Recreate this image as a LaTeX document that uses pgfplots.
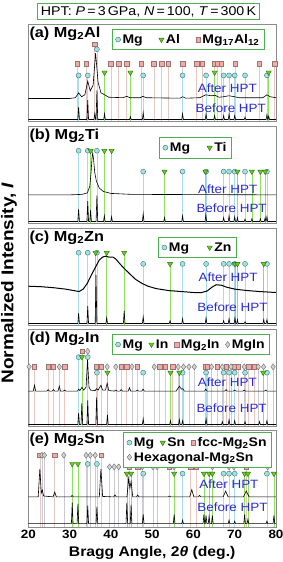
\documentclass[border=0pt]{standalone}
\usepackage{fontspec}
\setmainfont{Liberation Sans}[FakeStretch=1.12]
\usepackage{pgfplots}
\pgfplotsset{compat=1.18}
\definecolor{mgfill}{HTML}{9FE6D8}
\definecolor{mgedge}{HTML}{3E6E8E}
\definecolor{mgline}{HTML}{A8DCEC}
\definecolor{trfill}{HTML}{66CC22}
\definecolor{tredge}{HTML}{2E6E10}
\definecolor{trline}{HTML}{8EE060}
\definecolor{sqfill}{HTML}{F2AAA2}
\definecolor{sqedge}{HTML}{9A7474}
\definecolor{sqline}{HTML}{E8C8C0}
\definecolor{dmfill}{HTML}{D2D2D2}
\definecolor{dmedge}{HTML}{6E6E6E}
\definecolor{dmline}{HTML}{CACAD2}
\definecolor{boxgreen}{HTML}{4CAF50}
\definecolor{lblue}{HTML}{2A2AD0}
\definecolor{frame}{HTML}{8C8C8C}
\pgfplotsset{
 panel/.style={
  width=247.7pt, height=97pt, scale only axis,
  xmin=20, xmax=80, ymin=0, ymax=1,
  ytick=\empty, xtick={20,30,...,80}, xticklabels={},
  major tick length=0pt,
  axis line style={draw=frame, line width=0.8pt},
  legend cell align=left,
  legend image code/.code={\draw[##1] plot coordinates {(0.1cm,0cm)};},
  legend style={draw=boxgreen, line width=0.9pt, fill=white,
    font=\bfseries\fontsize{12.5}{14}\selectfont, inner xsep=3pt, inner ysep=3pt,
    anchor=north east},
 },
 csep/.style={legend style={/tikz/every even column/.append style={column sep=#1}}},
 mgM/.style={only marks, mark=*, mark size=2.5pt, mark options={fill=mgfill, draw=mgedge, line width=0.4pt}},
 trM/.style={only marks, mark=triangle*, mark size=3pt, mark options={fill=trfill, draw=tredge, rotate=180, line width=0.4pt}},
 sqM/.style={only marks, mark=square*, mark size=2.2pt, mark options={fill=sqfill, draw=sqedge, line width=0.4pt}},
 dmM/.style={only marks, mark=diamond*, mark size=3pt, mark options={fill=dmfill, draw=dmedge, line width=0.4pt}},
 mgL/.style={ycomb, draw=mgline, line width=0.6pt, mark=*, mark size=2.5pt, mark options={fill=mgfill, draw=mgedge, line width=0.4pt}, forget plot},
 trL/.style={ycomb, draw=trline, line width=0.6pt, mark=triangle*, mark size=3pt, mark options={fill=trfill, draw=tredge, rotate=180, line width=0.4pt}, forget plot},
 sqL/.style={ycomb, draw=sqline, line width=0.6pt, mark=square*, mark size=2.2pt, mark options={fill=sqfill, draw=sqedge, line width=0.4pt}, forget plot},
 dmL/.style={ycomb, draw=dmline, line width=0.6pt, mark=diamond*, mark size=3pt, mark options={fill=dmfill, draw=dmedge, line width=0.4pt}, forget plot},
 curve/.style={black, line width=0.6pt, mark=none, forget plot},
}
\tikzset{
 plabel/.style={anchor=north west, inner sep=1pt, yshift=-1.5pt, font=\bfseries\fontsize{14.5}{16}\selectfont},
 hpt/.style={anchor=east, inner sep=0pt, text=lblue, font=\fontsize{12}{14}\selectfont},
}
\begin{document}
\begin{tikzpicture}
\useasboundingbox (0pt,0pt) rectangle (283pt,562pt);

% ---------------- (a) Mg2Al
\begin{axis}[panel, at={(28.3pt,441pt)}, anchor=south west, legend columns=3, csep=14pt,
  legend style={at={(0.955,0.95)}}]
\addplot[sqL] coordinates {(31.9,0.59)(34.0,0.59)(36.1,0.79)(40.0,0.59)(41.9,0.59)(43.8,0.59)(47.4,0.59)(50.4,0.59)(52.3,0.59)(53.9,0.59)(57.4,0.59)(60.8,0.59)(62.1,0.59)(65.0,0.59)(65.8,0.59)(66.7,0.59)(70.1,0.59)(75.9,0.59)(79.7,0.59)};
\addplot[mgL] coordinates {(32.19,0.47)(34.40,0.47)(36.62,0.74)(47.83,0.47)(57.37,0.47)(63.06,0.47)(67.32,0.47)(68.63,0.47)(70.0,0.47)(72.5,0.47)(77.8,0.47)};
\addplot[trL] coordinates {(38.47,0.50)(44.74,0.50)(65.13,0.50)(78.23,0.50)};
\addplot[curve] coordinates {(20,0.015)(31.99,0.015)(32.19,0.145)(32.39,0.015)(34.20,0.015)(34.40,0.215)(34.60,0.015)(35.90,0.015)(36.10,0.075)(36.30,0.015)(36.42,0.015)(36.62,0.315)(36.82,0.015)(38.27,0.015)(38.47,0.075)(38.67,0.015)(44.54,0.015)(44.74,0.045)(44.94,0.015)(47.63,0.015)(47.83,0.085)(48.03,0.015)(57.17,0.015)(57.37,0.075)(57.57,0.015)(62.86,0.015)(63.06,0.075)(63.26,0.015)(64.93,0.015)(65.13,0.055)(65.33,0.015)(67.12,0.015)(67.32,0.055)(67.52,0.015)(68.43,0.015)(68.63,0.075)(68.83,0.015)(69.8,0.015)(70.0,0.055)(70.2,0.015)(72.3,0.015)(72.5,0.04)(72.7,0.015)(77.6,0.015)(77.8,0.065)(78.0,0.015)(78.03,0.015)(78.23,0.05)(78.43,0.015)(80,0.015)};
\addplot[curve] coordinates {(20,0.232)(30,0.232)(31.4,0.24)(32.2,0.29)(32.9,0.25)(33.7,0.27)(34.4,0.41)(35.0,0.31)(35.7,0.37)(36.3,0.70)(36.9,0.40)(37.6,0.29)(38.5,0.27)(39.5,0.245)(43.0,0.24)(43.8,0.255)(44.6,0.24)(47.1,0.24)(47.8,0.255)(48.5,0.24)(56.7,0.235)(57.4,0.25)(58.1,0.235)(61.5,0.24)(63.0,0.27)(64.3,0.26)(65.2,0.265)(66.2,0.245)(67.3,0.25)(68.6,0.26)(70.0,0.25)(71.0,0.24)(76.8,0.24)(77.8,0.27)(78.6,0.25)(80,0.24)};
\addlegendimage{mgM}\addlegendentry{Mg}
\addlegendimage{trM}\addlegendentry{Al}
\addlegendimage{sqM}\addlegendentry{Mg\textsubscript{17}Al\textsubscript{12}}
\node[plabel] at (rel axis cs:0,1) {(a) Mg\textsubscript{2}Al};
\node[hpt] at (axis cs:75.4,0.335) {After HPT};
\node[hpt] at (axis cs:77.6,0.135) {Before HPT};
\end{axis}

% ---------------- (b) Mg2Ti
\begin{axis}[panel, at={(28.3pt,339pt)}, anchor=south west, legend columns=2, csep=15pt,
  legend style={at={(0.822,0.887)}}]
\addplot[mgL] coordinates {(32.19,0.745)(34.40,0.745)(36.62,0.745)(47.83,0.53)(57.37,0.53)(63.06,0.53)(67.32,0.53)(68.63,0.53)(70.0,0.53)(72.5,0.53)(77.8,0.53)};
\addplot[trL] coordinates {(35.09,0.745)(38.42,0.745)(40.17,0.745)(53.0,0.53)(62.95,0.53)(70.66,0.53)(74.16,0.53)(76.22,0.53)(77.37,0.53)};
\addplot[curve] coordinates {(20,0.015)(31.99,0.015)(32.19,0.145)(32.39,0.015)(34.2,0.015)(34.4,0.225)(34.6,0.015)(34.89,0.015)(35.09,0.135)(35.29,0.015)(36.42,0.015)(36.62,0.285)(36.82,0.015)(38.22,0.015)(38.42,0.075)(38.62,0.015)(39.97,0.015)(40.17,0.065)(40.37,0.015)(47.63,0.015)(47.83,0.095)(48.03,0.015)(52.8,0.015)(53.0,0.055)(53.2,0.015)(57.17,0.015)(57.37,0.075)(57.57,0.015)(62.8,0.015)(63.0,0.085)(63.2,0.015)(67.12,0.015)(67.32,0.055)(67.52,0.015)(68.43,0.015)(68.63,0.075)(68.83,0.015)(69.8,0.015)(70.0,0.065)(70.2,0.015)(70.46,0.015)(70.66,0.055)(70.86,0.015)(72.3,0.015)(72.5,0.04)(72.7,0.015)(73.96,0.015)(74.16,0.045)(74.36,0.015)(76.02,0.015)(76.22,0.045)(76.42,0.015)(77.17,0.015)(77.37,0.055)(77.57,0.015)(77.6,0.015)(77.8,0.065)(78.0,0.015)(80,0.015)};
\addplot[curve] coordinates {(20,0.29)(30,0.29)(33,0.295)(34.3,0.31)(34.9,0.38)(35.2,0.52)(35.45,0.68)(35.6,0.72)(35.8,0.66)(36.1,0.52)(36.5,0.43)(37.2,0.36)(38.2,0.325)(40,0.305)(45,0.295)(80,0.29)};
\addlegendimage{mgM}\addlegendentry{Mg}
\addlegendimage{trM}\addlegendentry{Ti}
\node[plabel] at (rel axis cs:0,1) {(b) Mg\textsubscript{2}Ti};
\node[hpt] at (axis cs:75.5,0.35) {After HPT};
\node[hpt] at (axis cs:77.8,0.15) {Before HPT};
\end{axis}

% ---------------- (c) Mg2Zn
\begin{axis}[panel, at={(28.3pt,237pt)}, anchor=south west, legend columns=2, csep=16pt,
  legend style={at={(0.842,0.907)}}]
\addplot[mgL] coordinates {(32.19,0.745)(34.40,0.745)(36.62,0.745)(47.83,0.63)(57.37,0.63)(63.06,0.63)(67.32,0.63)(68.63,0.63)(70.0,0.63)(72.5,0.63)(77.8,0.63)};
\addplot[trL] coordinates {(36.30,0.745)(38.99,0.745)(43.23,0.745)(54.34,0.63)(70.06,0.63)(70.66,0.63)(77.03,0.63)};
\addplot[curve] coordinates {(20,0.015)(31.99,0.015)(32.19,0.125)(32.39,0.015)(34.2,0.015)(34.4,0.195)(34.6,0.015)(36.2,0.015)(36.4,0.515)(36.6,0.015)(38.79,0.015)(38.99,0.075)(39.19,0.015)(43.03,0.015)(43.23,0.145)(43.43,0.015)(47.63,0.015)(47.83,0.085)(48.03,0.015)(54.14,0.015)(54.34,0.045)(54.54,0.015)(57.17,0.015)(57.37,0.065)(57.57,0.015)(62.86,0.015)(63.06,0.075)(63.26,0.015)(67.12,0.015)(67.32,0.045)(67.52,0.015)(68.43,0.015)(68.63,0.065)(68.83,0.015)(69.86,0.015)(70.06,0.075)(70.26,0.015)(70.46,0.015)(70.66,0.055)(70.86,0.015)(72.3,0.015)(72.5,0.035)(72.7,0.015)(76.83,0.015)(77.03,0.055)(77.23,0.015)(77.6,0.015)(77.8,0.055)(78.0,0.015)(80,0.015)};
\addplot[curve, line width=1pt] coordinates {(20,0.40)(23,0.395)(26,0.385)(29,0.37)(31,0.355)(32.3,0.345)(33.3,0.37)(34.3,0.43)(35.2,0.51)(36.2,0.59)(37.2,0.67)(38.0,0.70)(38.8,0.71)(39.5,0.70)(40.5,0.70)(41.2,0.68)(42.2,0.63)(43.3,0.58)(44.5,0.53)(46,0.47)(47.5,0.43)(49,0.40)(51,0.375)(54,0.355)(57,0.345)(60,0.335)(62,0.335)(63.3,0.35)(64.5,0.39)(65.5,0.415)(66.8,0.41)(68,0.39)(70,0.37)(73,0.355)(76,0.345)(80,0.335)};
\addlegendimage{mgM}\addlegendentry{Mg}
\addlegendimage{trM}\addlegendentry{Zn}
\node[plabel] at (rel axis cs:0,1) {(c) Mg\textsubscript{2}Zn};
\node[hpt] at (axis cs:75.6,0.49) {After HPT};
\node[hpt] at (axis cs:78.0,0.185) {Before HPT};
\end{axis}

% ---------------- (d) Mg2In
\begin{axis}[panel, at={(28.3pt,136pt)}, anchor=south west, legend columns=4, csep=4pt,
  legend style={at={(0.976,0.948)}}]
\addplot[sqL] coordinates {(21.5,0.61)(24.8,0.61)(26.1,0.61)(28.8,0.61)(33.0,0.77)(36.4,0.61)(37.7,0.61)(42.5,0.61)(43.8,0.61)(46.4,0.61)(51.8,0.61)(53.1,0.61)(55.0,0.61)(62.8,0.61)(63.4,0.61)(65.7,0.61)(67.9,0.61)(70.0,0.61)(70.8,0.61)(73.4,0.61)(74.7,0.61)};
\addplot[dmL] coordinates {(20.2,0.61)(27.5,0.61)(34.4,0.77)(39.1,0.61)(41.2,0.61)(45.1,0.61)(50.5,0.61)(56.3,0.61)(57.6,0.61)(58.9,0.61)(60.2,0.61)(64.4,0.61)(67.0,0.61)(69.1,0.61)(72.3,0.61)(75.7,0.61)(77.0,0.61)(79.3,0.61)};
\addplot[mgL] coordinates {(32.19,0.71)(34.40,0.71)(36.62,0.55)(47.83,0.55)(57.37,0.55)(63.06,0.55)(67.32,0.55)(68.63,0.55)(70.0,0.55)(72.5,0.55)(77.8,0.55)};
\addplot[trL] coordinates {(33.0,0.71)(39.17,0.55)(54.44,0.55)(56.6,0.55)(76.9,0.55)};
\addplot[curve] coordinates {(20,0.015)(31.99,0.015)(32.19,0.135)(32.39,0.015)(32.77,0.015)(32.97,0.235)(33.17,0.015)(34.2,0.015)(34.4,0.265)(34.6,0.015)(36.35,0.015)(36.55,0.295)(36.75,0.015)(38.97,0.015)(39.17,0.115)(39.37,0.015)(47.63,0.015)(47.83,0.075)(48.03,0.015)(54.24,0.015)(54.44,0.055)(54.64,0.015)(56.4,0.015)(56.6,0.065)(56.8,0.015)(57.17,0.015)(57.37,0.055)(57.57,0.015)(62.86,0.015)(63.06,0.075)(63.26,0.015)(66.8,0.015)(67.0,0.045)(67.2,0.015)(68.43,0.015)(68.63,0.065)(68.83,0.015)(69.8,0.015)(70.0,0.055)(70.2,0.015)(72.3,0.015)(72.5,0.045)(72.7,0.015)(75.8,0.015)(76.0,0.045)(76.2,0.015)(77.6,0.015)(77.8,0.055)(78.0,0.015)(80,0.015)};
\addplot[curve] coordinates {(20,0.36)(21.2,0.36)(21.5,0.42)(21.8,0.36)(24.5,0.36)(24.8,0.375)(25.1,0.36)(25.8,0.36)(26.1,0.375)(26.4,0.36)(27.2,0.36)(27.5,0.41)(27.8,0.36)(28.5,0.36)(28.8,0.37)(29.1,0.36)(31.9,0.36)(32.2,0.38)(32.5,0.365)(33.0,0.40)(33.4,0.37)(34.0,0.40)(34.35,0.69)(34.7,0.40)(35.1,0.37)(36.2,0.365)(36.5,0.385)(36.9,0.37)(37.6,0.42)(38.0,0.37)(38.7,0.37)(39.1,0.44)(39.5,0.365)(40.9,0.36)(41.2,0.37)(41.5,0.36)(42.2,0.36)(42.5,0.375)(42.8,0.36)(44.2,0.36)(44.5,0.395)(44.8,0.36)(46.1,0.36)(46.4,0.37)(46.7,0.36)(47.5,0.36)(47.8,0.38)(48.1,0.36)(55.8,0.36)(56.6,0.41)(57.1,0.38)(57.4,0.385)(57.8,0.36)(62.7,0.36)(63.0,0.38)(63.3,0.36)(67.6,0.36)(67.9,0.375)(68.2,0.36)(69.7,0.36)(70.0,0.37)(70.3,0.36)(72.0,0.36)(72.3,0.37)(72.6,0.36)(77.2,0.36)(77.5,0.37)(77.8,0.36)(80,0.36)};
\addlegendimage{mgM}\addlegendentry{Mg}
\addlegendimage{trM}\addlegendentry{In}
\addlegendimage{sqM}\addlegendentry{Mg\textsubscript{2}In}
\addlegendimage{dmM}\addlegendentry{MgIn}
\node[plabel] at (rel axis cs:0,1) {(d) Mg\textsubscript{2}In};
\node[hpt] at (axis cs:75.4,0.45) {After HPT};
\node[hpt] at (axis cs:77.8,0.18) {Before HPT};
\end{axis}

% ---------------- (e) Mg2Sn
\begin{axis}[panel, at={(28.3pt,35pt)}, anchor=south west, legend columns=3, csep=4pt,
  legend style={at={(0.984,0.98)}},
  xticklabels={20,30,40,50,60,70,80},
  xticklabel style={font=\bfseries\fontsize{12}{14}\selectfont},
  xlabel={Bragg Angle, 2\textit{θ} (deg.)},
  xlabel style={font=\bfseries\fontsize{14}{16}\selectfont}]
\addplot[sqL] coordinates {(22.8,0.74)(26.4,0.74)(37.6,0.74)(44.4,0.62)(46.5,0.62)(54.1,0.62)(59.3,0.62)(60.6,0.62)(72.8,0.62)};
\addplot[dmL] coordinates {(23.3,0.74)(23.9,0.74)(28.6,0.74)(34.0,0.74)(35.0,0.74)(36.2,0.74)(39.7,0.62)(40.8,0.62)(41.9,0.62)(47.6,0.62)(50.2,0.62)(51.2,0.62)(55.3,0.62)(64.6,0.62)(68.6,0.62)(69.8,0.62)(78.0,0.62)};
\addplot[mgL] coordinates {(34.40,0.65)(36.62,0.65)(47.83,0.55)(57.37,0.55)(67.32,0.55)(68.63,0.55)(70.0,0.55)(77.8,0.55)};
\addplot[trL] coordinates {(30.64,0.65)(32.02,0.65)(43.87,0.55)(44.90,0.55)(55.33,0.55)(62.54,0.55)(63.79,0.55)(64.58,0.55)(72.4,0.55)(73.2,0.55)(79.5,0.55)};
\addplot[curve] coordinates {(20,0.035)(30.44,0.035)(30.64,0.25)(30.84,0.035)(31.82,0.035)(32.02,0.24)(32.22,0.035)(34.2,0.035)(34.4,0.22)(34.6,0.035)(36.42,0.035)(36.62,0.21)(36.82,0.035)(43.67,0.035)(43.87,0.25)(44.07,0.035)(44.7,0.035)(44.9,0.23)(45.1,0.035)(47.63,0.035)(47.83,0.13)(48.03,0.035)(55.13,0.035)(55.33,0.13)(55.53,0.035)(57.17,0.035)(57.37,0.07)(57.57,0.035)(62.34,0.035)(62.54,0.13)(62.74,0.035)(62.86,0.035)(63.06,0.12)(63.26,0.035)(63.59,0.035)(63.79,0.11)(63.99,0.035)(64.38,0.035)(64.58,0.12)(64.78,0.035)(68.43,0.035)(68.63,0.07)(68.83,0.035)(69.8,0.035)(70.0,0.06)(70.2,0.035)(72.2,0.035)(72.4,0.13)(72.6,0.035)(73.0,0.035)(73.2,0.08)(73.4,0.035)(77.6,0.035)(77.8,0.06)(78.0,0.035)(79.3,0.035)(79.5,0.12)(79.7,0.035)(80,0.035)};
\addplot[curve] coordinates {(20,0.31)(22.4,0.31)(22.8,0.60)(23.15,0.35)(23.4,0.38)(23.7,0.32)(26.0,0.31)(26.4,0.36)(26.8,0.31)(30.3,0.31)(30.6,0.325)(30.9,0.31)(37.2,0.31)(37.6,0.60)(38.0,0.315)(40.7,0.31)(41.0,0.33)(41.3,0.31)(43.9,0.31)(44.3,0.50)(44.6,0.40)(44.9,0.47)(45.3,0.31)(46.2,0.31)(46.5,0.33)(46.8,0.31)(53.9,0.31)(54.2,0.32)(54.5,0.31)(59.1,0.31)(59.6,0.385)(60.1,0.31)(61.2,0.31)(61.5,0.325)(61.8,0.31)(67.2,0.31)(67.8,0.37)(68.4,0.31)(72.1,0.31)(72.8,0.37)(73.5,0.31)(80,0.31)};
\addlegendimage{mgM}\addlegendentry{Mg}
\addlegendimage{trM}\addlegendentry{Sn}
\addlegendimage{sqM}\addlegendentry{fcc-Mg\textsubscript{2}Sn}
\addlegendimage{dmM}\addlegendentry{\rlap{Hexagonal-Mg\textsubscript{2}Sn}}
\node[plabel] at (rel axis cs:0,1) {(e) Mg\textsubscript{2}Sn};
\node[hpt] at (axis cs:75.8,0.44) {After HPT};
\node[hpt] at (axis cs:78.0,0.20) {Before HPT};
\end{axis}

\node[draw=boxgreen, line width=1pt, inner xsep=3pt, inner ysep=3pt,
  font=\fontsize{12.7}{15}\selectfont] at (148.5pt,550.5pt)
  {HPT: \textit{P}\,=\,3\,GPa, \textit{N}\,=\,100, \textit{T}\,=\,300\,K};
\node[rotate=90, font=\bfseries\fontsize{17}{19}\selectfont] at (9pt,279pt)
  {Normalized Intensity, \textit{I}};
\end{tikzpicture}
\end{document}
